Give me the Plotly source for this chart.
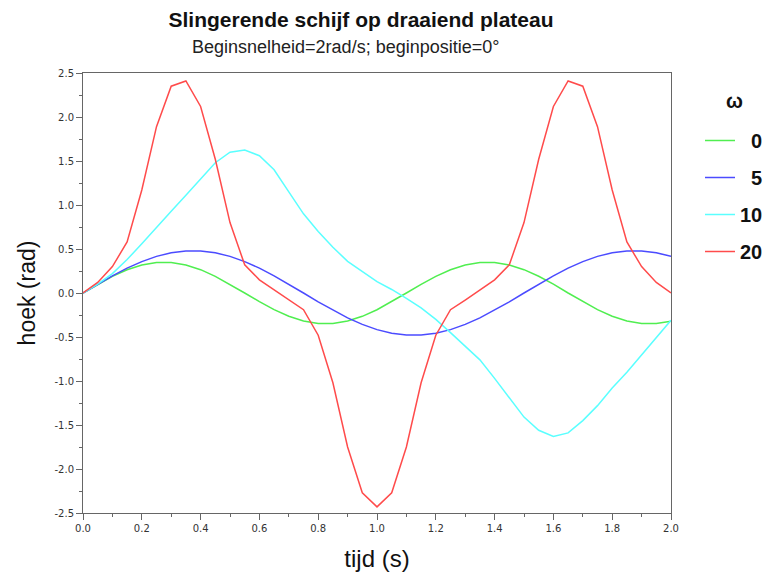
import plotly.graph_objects as go

t = [round(0.05 * i, 2) for i in range(41)]

omega_0 = [0.0, 0.099, 0.189, 0.264, 0.318, 0.346, 0.346, 0.318, 0.265, 0.189, 0.099,
           0.0, -0.098, -0.189, -0.264, -0.318, -0.346, -0.346, -0.318, -0.265, -0.19,
           -0.099, 0.0, 0.098, 0.189, 0.264, 0.318, 0.346, 0.346, 0.318, 0.265,
           0.19, 0.1, 0.0, -0.098, -0.189, -0.264, -0.318, -0.346, -0.346, -0.32]

omega_5 = [0.0, 0.10, 0.195, 0.282, 0.357, 0.416, 0.457, 0.477, 0.477, 0.457, 0.416,
           0.357, 0.282, 0.195, 0.10, 0.0, -0.10, -0.195, -0.282, -0.357, -0.416,
           -0.457, -0.477, -0.477, -0.457, -0.416, -0.357, -0.282, -0.195, -0.10, 0.0,
           0.10, 0.195, 0.282, 0.357, 0.416, 0.457, 0.477, 0.477, 0.457, 0.416]

omega_10 = [0.0, 0.10, 0.22, 0.38, 0.56, 0.75, 0.93, 1.11, 1.30, 1.48, 1.60,
            1.625, 1.56, 1.40, 1.15, 0.90, 0.70, 0.52, 0.36, 0.24, 0.13,
            0.04, -0.06, -0.17, -0.30, -0.45, -0.60, -0.76, -0.97, -1.19, -1.41,
            -1.56, -1.63, -1.59, -1.45, -1.28, -1.08, -0.90, -0.70, -0.50, -0.31]

omega_20 = [0.0, 0.12, 0.30, 0.58, 1.17, 1.89, 2.35, 2.41, 2.12, 1.52, 0.80,
            0.32, 0.15, 0.04, -0.08, -0.19, -0.48, -1.02, -1.75, -2.27, -2.43,
            -2.27, -1.75, -1.02, -0.48, -0.19, -0.08, 0.04, 0.15, 0.32, 0.80,
            1.52, 2.12, 2.41, 2.35, 1.89, 1.17, 0.58, 0.30, 0.12, 0.0]

series_names = ["0", "5", "10", "20"]
series_values = [omega_0, omega_5, omega_10, omega_20]
series_colors = ["rgb(80,238,80)", "rgb(75,75,255)", "rgb(90,255,255)", "rgb(255,75,75)"]
legend_labels = ["<b>\u00a0\u00a00</b>", "<b>\u00a0\u00a05</b>", "<b>10</b>", "<b>20</b>"]

x_tickvals = [0.0, 0.2, 0.4, 0.6, 0.8, 1.0, 1.2, 1.4, 1.6, 1.8, 2.0]
x_ticktext = ["0.0", "0.2", "0.4", "0.6", "0.8", "1.0", "1.2", "1.4", "1.6", "1.8", "2.0"]
y_tickvals = [2.5, 2.0, 1.5, 1.0, 0.5, 0.0, -0.5, -1.0, -1.5, -2.0, -2.5]
y_ticktext = ["2.5", "2.0", "1.5", "1.0", "0.5", "0.0", "-0.5", "-1.0", "-1.5", "-2.0", "-2.5"]

# the page body adds an 8px offset; the figure layout compensates for it
OFF = 8
W, H = 774, 576
PL, PR, PT, PB = 83, 671, 73, 513  # wanted plot area in screen pixels

fig = go.Figure()
for name, vals, col, lab in zip(series_names, series_values, series_colors, legend_labels):
    fig.add_trace(go.Scatter(x=t, y=vals, mode="lines", name=lab, legendgroup=name,
                             line=dict(color=col, width=1.5)))

axis_common = dict(showline=True, linecolor="#666666", linewidth=1, mirror=True,
                   showgrid=False, zeroline=False, ticks="outside", ticklen=6,
                   tickcolor="#666666", automargin=False,
                   tickfont=dict(family="DejaVu Sans", size=10, color="#333333"))

fig.update_xaxes(range=[0, 2], tickvals=x_tickvals, ticktext=x_ticktext,
                 minor=dict(ticks="outside", ticklen=3, dtick=0.1, tick0=0, tickcolor="#666666"),
                 title=dict(text="tijd (s)", font=dict(family="Liberation Sans", size=24, color="#111111"), standoff=17),
                 **axis_common)
fig.update_yaxes(range=[-2.5, 2.5], tickvals=y_tickvals, ticktext=y_ticktext,
                 minor=dict(ticks="outside", ticklen=3, dtick=0.25, tick0=0, tickcolor="#666666"),
                 title=dict(text="hoek (rad)", font=dict(family="Liberation Sans", size=23, color="#111111"), standoff=12),
                 **axis_common)

pw, ph = PR - PL, PB - PT

def px(xs):
    return (xs - PL) / pw

def py(ys):
    return (PB - ys) / ph

fig.update_layout(
    width=W, height=H,
    margin=dict(l=PL - OFF, r=W - (PR - OFF), t=PT - OFF, b=H - (PB - OFF), autoexpand=False),
    plot_bgcolor="white", paper_bgcolor="white",
    title=dict(text="<b>Slingerende schijf op draaiend plateau</b>", x=(361 - OFF) / W, xanchor="center",
               y=1 - (20 - OFF) / H, yanchor="middle",
               font=dict(family="Liberation Sans", size=21, color="#111111")),
    legend=dict(x=px(700), y=py(121), xanchor="left", yanchor="top",
                font=dict(family="Liberation Sans", size=20, color="#111111"),
                tracegroupgap=8, bgcolor="rgba(0,0,0,0)"),
    annotations=[
        dict(text="Beginsnelheid=2rad/s; beginpositie=0\u00b0", xref="paper", yref="paper",
             x=px(345), y=py(47), xanchor="center", yanchor="middle", showarrow=False,
             font=dict(family="Liberation Sans", size=18, color="#222222")),
        dict(text="<b>\u03c9</b>", xref="paper", yref="paper",
             x=px(735), y=py(101), xanchor="center", yanchor="middle",
             showarrow=False, font=dict(family="Liberation Sans", size=20, color="#111111")),
    ],
)

fig.write_html("out.html")
